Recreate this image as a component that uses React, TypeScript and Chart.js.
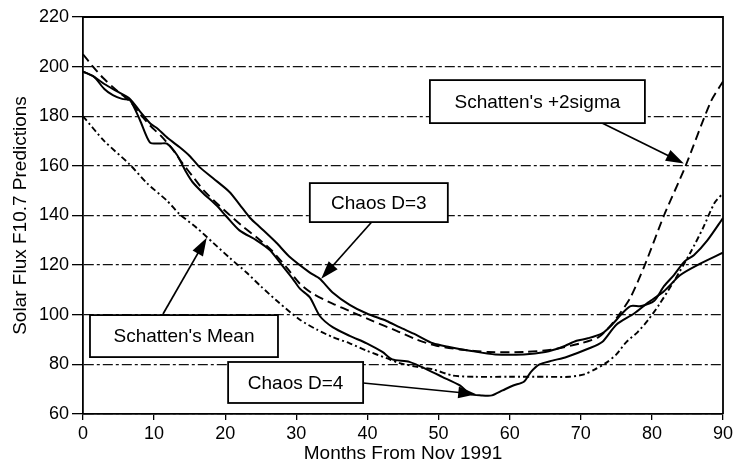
import React, { useEffect, useRef } from 'react';
import { Chart, registerables } from 'chart.js';

Chart.register(...registerables);

// ---- Data (months from Nov 1991, solar flux F10.7) ----
const d3Months = [0, 1.5, 3, 4.8, 6.6, 8, 9.5, 10.5, 12, 13.6, 15, 16.4, 18.3, 20.6, 22, 23.5, 25, 27.2, 29, 31.9, 33.3, 35.1, 37.5, 39.9, 42.7, 44.5, 46.8, 49.2, 51.5, 54.4, 58, 62, 65, 67.4, 69.4, 71, 73, 74.4, 75.8, 77, 78.5, 80.3, 81.7, 83.1, 84.6, 85.9, 87.8, 90];
const d3Values = [198, 196, 193, 190, 187, 182, 177, 175, 171, 167.5, 164, 159.5, 155, 149.5, 144.5, 139, 135, 129, 123.5, 117, 114.5, 109, 104, 100.5, 97.5, 95, 92, 88.5, 87, 85.5, 84, 84, 85, 87, 89.5, 90.5, 92.5, 96, 100.5, 103.5, 103.5, 105.5, 111.5, 116, 121.5, 124, 130, 139];

const d4Months = [0, 1.5, 3, 4.2, 5.5, 6.6, 8, 9.4, 10.8, 11.8, 13.2, 14.5, 15.4, 16.9, 18.8, 20.2, 22, 24.4, 26.3, 27.7, 29.5, 30.5, 31.9, 33.3, 35.1, 37.5, 39.9, 42.1, 43.5, 45.9, 48.7, 50.5, 53, 54.5, 56, 57.5, 59, 60.5, 62, 63, 64.2, 66, 68, 71.2, 73, 75, 77.5, 79.5, 81.7, 84, 86.4, 90];
const d4Values = [198, 196, 191, 188.5, 187, 186.5, 178.5, 169.5, 169, 169, 164.5, 157.5, 153.5, 149, 144, 139.5, 134, 130, 126, 121, 114.5, 110.5, 107, 99.5, 95, 91.5, 88.5, 85, 82, 81, 77.5, 75, 71.5, 68, 67.5, 67.5, 69.5, 71.5, 73, 77, 80, 81.5, 83, 86.5, 89, 96, 100.5, 105, 109.5, 116, 120, 125];

const meanMonths = [0, 3, 6.6, 9, 11.8, 13.6, 16, 18.3, 20.6, 23, 25, 27.5, 30.5, 32.9, 35.1, 37.5, 39.9, 42.7, 44.5, 47, 49.2, 52, 55, 60, 65, 68.4, 70.5, 72, 73.5, 75, 76.4, 78, 79.5, 81, 83.1, 85.5, 87.2, 88.8, 90];
const meanValues = [180, 170, 160.5, 153, 146, 140.5, 135, 129, 123, 117, 111.5, 105, 98, 94, 91, 88.5, 85.5, 82.5, 80.5, 79, 78, 75.5, 75, 75, 75, 75, 76, 78, 80.5, 84, 89, 93, 98, 104, 113.5, 125.5, 135, 145, 149];

const sigmaMonths = [0, 1.4, 2.8, 4.5, 6.6, 8, 9.5, 11, 12.5, 14, 15.5, 17, 18.8, 20.5, 22.5, 24.5, 26.5, 28.5, 30.5, 32.3, 35.1, 37.9, 40.7, 44.1, 46.9, 49.7, 53, 57, 62, 66, 70, 72.5, 74, 75.5, 77, 79, 81.7, 84.6, 88.3, 90];
const sigmaValues = [205, 200, 195.5, 191, 186, 181, 176, 172, 167, 161, 155.5, 150, 145, 140.5, 135.5, 131, 126, 119.5, 112.5, 108.5, 104.5, 101, 97.5, 93.5, 90, 87.5, 86, 85, 85, 86, 88.5, 91, 95, 100.5, 107, 120, 140, 159, 186, 194];

const xTickStep = 10;
const yTickStep = 20;

// ---- Callouts (box centre and arrow in data units) ----
const calloutTexts = ["Schatten's +2sigma", 'Chaos D=3', "Schatten's Mean", 'Chaos D=4'];
const calloutBoxAt = [[63.9, 185.9], [41.6, 145.2], [14.2, 91.4], [29.9, 72.7]];
const calloutArrowFrom = [[72.7, 177.7], [40.6, 137.4], [11.25, 100.3], [39.4, 72.5]];
const calloutArrowTo = [[84.5, 161], [33.5, 114.5], [17.4, 131], [55.3, 68]];
const calloutBoxSize = [[215, 43], [138, 39], [188, 42], [135, 41]];

const FONT = "'Liberation Sans', Arial, Helvetica, sans-serif";

const toPts = (xs: number[], ys: number[]) => xs.map((x, i) => ({ x, y: ys[i] }));

const bgPlugin = {
  id: 'bg',
  beforeDraw(chart: any) {
    const { ctx, width, height } = chart;
    ctx.save();
    ctx.fillStyle = '#ffffff';
    ctx.fillRect(0, 0, width, height);
    ctx.restore();
  },
};

const framePlugin = {
  id: 'frame',
  afterDatasetsDraw(chart: any) {
    const { ctx, chartArea } = chart;
    ctx.save();
    ctx.strokeStyle = '#000';
    ctx.lineWidth = 1.8;
    ctx.beginPath();
    ctx.moveTo(chartArea.left, chartArea.top);
    ctx.lineTo(chartArea.right, chartArea.top);
    ctx.lineTo(chartArea.right, chartArea.bottom);
    ctx.stroke();
    ctx.restore();
  },
};

const calloutPlugin = {
  id: 'callouts',
  afterDatasetsDraw(chart: any) {
    const { ctx } = chart;
    const xs = chart.scales.x;
    const ys = chart.scales.y;
    ctx.save();
    calloutTexts.forEach((text, i) => {
      const x1 = xs.getPixelForValue(calloutArrowFrom[i][0]);
      const y1 = ys.getPixelForValue(calloutArrowFrom[i][1]);
      const x2 = xs.getPixelForValue(calloutArrowTo[i][0]);
      const y2 = ys.getPixelForValue(calloutArrowTo[i][1]);
      const ang = Math.atan2(y2 - y1, x2 - x1);
      const headLen = 18;
      const headW = 6;
      ctx.strokeStyle = '#000';
      ctx.fillStyle = '#000';
      ctx.lineWidth = 1.7;
      ctx.setLineDash([]);
      ctx.beginPath();
      ctx.moveTo(x1, y1);
      ctx.lineTo(x2 - Math.cos(ang) * headLen * 0.8, y2 - Math.sin(ang) * headLen * 0.8);
      ctx.stroke();
      const bx = x2 - Math.cos(ang) * headLen;
      const by = y2 - Math.sin(ang) * headLen;
      ctx.beginPath();
      ctx.moveTo(x2, y2);
      ctx.lineTo(bx + Math.sin(ang) * headW, by - Math.cos(ang) * headW);
      ctx.lineTo(bx - Math.sin(ang) * headW, by + Math.cos(ang) * headW);
      ctx.closePath();
      ctx.fill();

      const cx = xs.getPixelForValue(calloutBoxAt[i][0]);
      const cy = ys.getPixelForValue(calloutBoxAt[i][1]);
      const w = calloutBoxSize[i][0];
      const h = calloutBoxSize[i][1];
      ctx.fillStyle = '#fff';
      ctx.fillRect(cx - w / 2, cy - h / 2, w, h);
      ctx.lineWidth = 1.8;
      ctx.strokeRect(cx - w / 2, cy - h / 2, w, h);
      ctx.fillStyle = '#000';
      ctx.font = `19px ${FONT}`;
      ctx.textAlign = 'center';
      ctx.textBaseline = 'middle';
      ctx.fillText(text, cx, cy + 1);
    });
    ctx.restore();
  },
};

export default function App() {
  const ref = useRef<HTMLCanvasElement>(null);
  useEffect(() => {
    const lineCommon = {
      borderColor: '#000',
      pointRadius: 0,
      tension: 0.25,
      fill: false,
    };
    const chart = new Chart(ref.current as HTMLCanvasElement, {
      type: 'line',
      data: {
        datasets: [
          { ...lineCommon, label: 'Chaos D=3', data: toPts(d3Months, d3Values), borderWidth: 2 },
          { ...lineCommon, label: 'Chaos D=4', data: toPts(d4Months, d4Values), borderWidth: 2 },
          { ...lineCommon, label: "Schatten's Mean", data: toPts(meanMonths, meanValues), borderWidth: 1.9, borderDash: [6, 3, 2, 3] },
          { ...lineCommon, label: "Schatten's +2sigma", data: toPts(sigmaMonths, sigmaValues), borderWidth: 1.9, borderDash: [9, 5] },
        ],
      } as any,
      options: {
        animation: false,
        responsive: false,
        events: [],
        layout: { padding: { top: 17, right: 14, left: 0, bottom: 0 } },
        plugins: { legend: { display: false }, tooltip: { enabled: false } },
        scales: {
          x: {
            type: 'linear',
            min: 0,
            max: 90,
            ticks: { stepSize: xTickStep, color: '#000', font: { size: 18, family: FONT }, padding: 3, maxRotation: 0 },
            grid: { drawOnChartArea: false, drawTicks: true, tickLength: 6, color: '#000', lineWidth: 1.3 },
            border: { color: '#000', width: 1.8 },
            title: { display: true, text: 'Months From Nov 1991', color: '#000', font: { size: 19, family: FONT }, padding: { top: 0, bottom: 3 } },
            afterFit: (s: any) => { s.height = 54; },
          },
          y: {
            min: 60,
            max: 220,
            ticks: { stepSize: yTickStep, color: '#000', font: { size: 18, family: FONT }, padding: 3 },
            grid: { color: '#111', lineWidth: 1.3, tickLength: 11, tickColor: '#000', tickBorderDash: [] },
            border: { color: '#000', width: 1.8, dash: [10, 3, 3, 3] },
            title: { display: true, text: 'Solar Flux F10.7 Predictions', color: '#000', font: { size: 19, family: FONT }, padding: { top: 9, bottom: 0 } },
            afterFit: (s: any) => { s.width = 83; },
          },
        },
      } as any,
      plugins: [bgPlugin, framePlugin, calloutPlugin],
    });
    return () => chart.destroy();
  }, []);
  return (
    <canvas
      ref={ref}
      width={737}
      height={468}
      style={{ position: 'fixed', left: 0, top: 0, width: 737, height: 468 }}
    />
  );
}
